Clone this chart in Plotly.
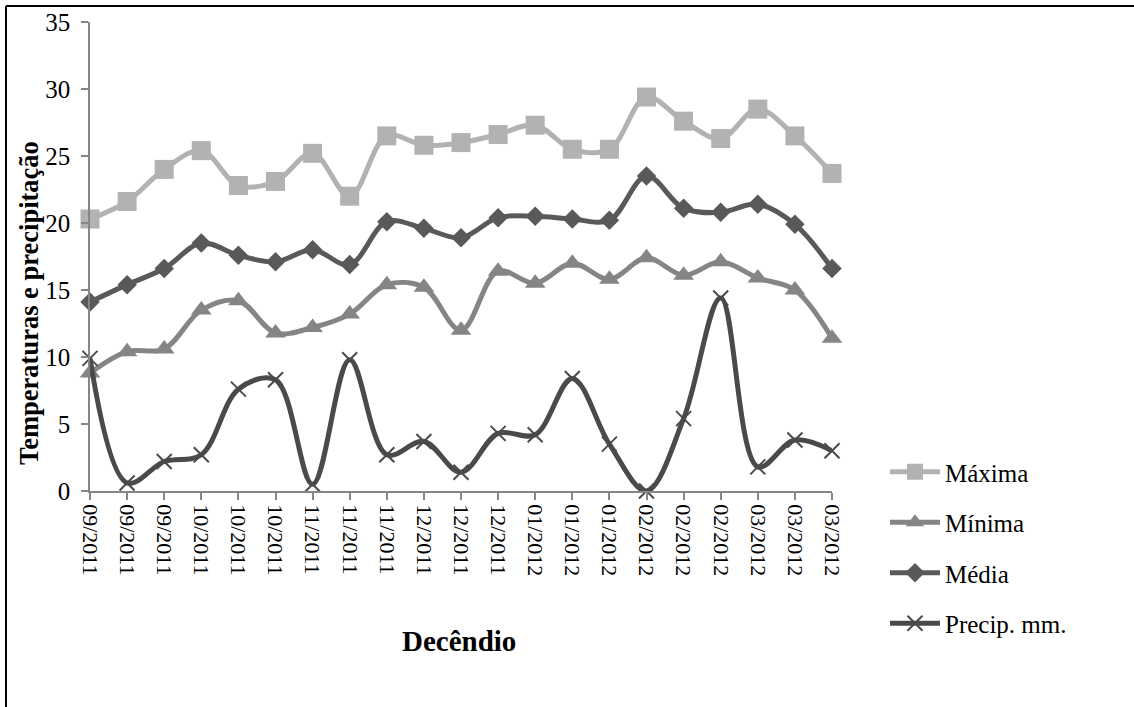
import plotly.graph_objects as go

decendios = ["09/2011", "09/2011", "09/2011", "10/2011", "10/2011", "10/2011",
             "11/2011", "11/2011", "11/2011", "12/2011", "12/2011", "12/2011",
             "01/2012", "01/2012", "01/2012", "02/2012", "02/2012", "02/2012",
             "03/2012", "03/2012", "03/2012"]

maxima = [20.3, 21.6, 24.0, 25.4, 22.8, 23.1, 25.2, 22.0, 26.5, 25.8, 26.0,
          26.6, 27.3, 25.5, 25.5, 29.4, 27.6, 26.3, 28.5, 26.5, 23.7]
minima = [8.8, 10.4, 10.6, 13.5, 14.2, 11.8, 12.2, 13.2, 15.4, 15.2, 12.0,
          16.4, 15.5, 17.0, 15.8, 17.4, 16.1, 17.1, 15.9, 15.0, 11.4]
media = [14.1, 15.4, 16.6, 18.5, 17.6, 17.1, 18.0, 16.9, 20.1, 19.6, 18.9,
         20.4, 20.5, 20.3, 20.2, 23.5, 21.1, 20.8, 21.4, 19.9, 16.6]
precip = [9.9, 0.6, 2.2, 2.7, 7.6, 8.3, 0.5, 9.8, 2.7, 3.7, 1.4,
          4.3, 4.2, 8.4, 3.5, 0.0, 5.4, 14.4, 1.8, 3.8, 3.0]

yticks = [0, 5, 10, 15, 20, 25, 30, 35]

x = list(range(len(decendios)))
FONT = "Liberation Serif, Times New Roman, serif"

series = [
    ("Máxima", maxima, "#B2B2B2", dict(symbol="square", size=19, color="#B2B2B2")),
    ("Mínima", minima, "#858585", dict(symbol="triangle-up", size=18, color="#858585")),
    ("Média", media, "#595959", dict(symbol="diamond", size=15, color="#595959")),
    ("Precip. mm.", precip, "#4A4A4A",
     dict(symbol="x-thin", size=15, color="#4A4A4A", line=dict(width=2, color="#4A4A4A"))),
]

fig = go.Figure()
for i, (name, vals, col, mk) in enumerate(series):
    fig.add_trace(go.Scatter(
        x=x, y=vals, name=name, mode="lines+markers",
        line=dict(color=col, width=5, shape="spline", smoothing=1),
        marker=mk, cliponaxis=False, legendgroup=f"g{i}",
    ))

W, H = 1134, 707
L, R, T, B = 90, 832, 22, 491
pw, ph = R - L, B - T

def px(xp):
    return (xp - L) / pw

def py(yp):
    return (B - yp) / ph

fig.update_layout(
    width=W, height=H,
    margin=dict(l=L, r=W - R, t=T, b=H - B, pad=0, autoexpand=False),
    paper_bgcolor="white", plot_bgcolor="white",
    font=dict(family=FONT, size=25, color="black"),
    showlegend=True,
    legend=dict(x=px(885), y=py(449), xanchor="left", yanchor="top",
                font=dict(size=25, family=FONT), tracegroupgap=15, itemwidth=50,
                bgcolor="rgba(0,0,0,0)"),
    xaxis=dict(
        range=[0, len(x) - 1], tickmode="array", tickvals=x, ticktext=decendios,
        tickangle=90, tickfont=dict(size=22, family=FONT), automargin=False,
        showline=True, linecolor="#868686", linewidth=1.5,
        ticks="outside", ticklen=7, tickcolor="#868686", tickwidth=1.5,
        showgrid=False, zeroline=False,
    ),
    yaxis=dict(
        range=[0, 35], tickmode="array", tickvals=yticks, automargin=False,
        tickfont=dict(size=25, family=FONT),
        showline=True, linecolor="#868686", linewidth=1.5,
        ticks="outside", ticklen=7, tickcolor="#868686", tickwidth=1.5,
        showgrid=False, zeroline=False, ticklabelstandoff=6,
    ),
    annotations=[
        dict(text="<b>Decêndio</b>", xref="paper", yref="paper",
             x=px(459), y=py(641), xanchor="center", yanchor="middle",
             showarrow=False, font=dict(size=29, family=FONT)),
        dict(text="<b>Temperaturas e precipitação</b>", xref="paper", yref="paper",
             x=px(29), y=py(303), xanchor="center", yanchor="middle",
             showarrow=False, textangle=-90,
             font=dict(size=26.5, family=FONT)),
    ],
    shapes=[
        dict(type="line", xref="paper", yref="paper", x0=px(6), x1=px(1134),
             y0=py(6), y1=py(6), line=dict(color="black", width=2)),
        dict(type="line", xref="paper", yref="paper", x0=px(6), x1=px(6),
             y0=py(6), y1=py(707), line=dict(color="black", width=2)),
    ],
)

fig.write_html("out.html")
